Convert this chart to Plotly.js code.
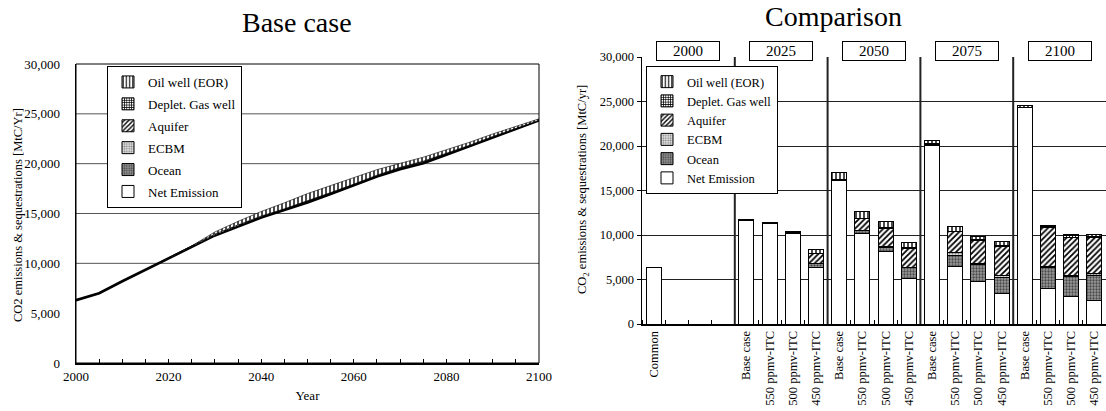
<!DOCTYPE html>
<html>
<head>
<meta charset="utf-8">
<script src="https://cdn.plot.ly/plotly-3.0.1.min.js"></script>
<style>
html,body{margin:0;padding:0;background:#fff;}
#chart{width:1106px;height:411px;}
</style>
</head>
<body>
<div id="chart"></div>
<script>
// ---------- Left chart: Base case (MtC/yr) ----------
const years     = [2000,2005,2010,2015,2020,2025,2030,2035,2040,2045,2050,2055,2060,2065,2070,2075,2080,2085,2090,2095,2100];
const netL      = [6300,7000,8200,9350,10500,11650,12800,13700,14600,15350,16100,16950,17800,18700,19450,20050,20900,21750,22650,23500,24350];
const oceanL    = [0,0,0,0,0,0,50,80,100,120,150,150,150,150,180,200,150,100,80,50,0];
const ecbmL     = [0,0,0,0,0,0,0,0,0,0,0,0,0,0,0,0,0,0,0,0,0];
const aquiferL  = [0,0,0,0,0,0,0,0,0,0,0,0,0,0,0,0,0,0,0,0,0];
const gasL      = [0,0,0,0,50,100,100,80,50,0,0,0,0,0,0,0,0,0,0,0,0];
const oilL      = [0,0,0,0,0,0,200,350,450,600,750,700,650,550,400,400,350,300,250,200,150];

// ---------- Right chart: Comparison ----------
const groups     = ['2000','2025','2050','2075','2100'];
const scenarios  = ['Base case','550 ppmv-ITC','500 ppmv-ITC','450 ppmv-ITC'];
const barGroup   = [0, 1,1,1,1, 2,2,2,2, 3,3,3,3, 4,4,4,4];
const barLabel   = ['Common',
  'Base case','550 ppmv-ITC','500 ppmv-ITC','450 ppmv-ITC',
  'Base case','550 ppmv-ITC','500 ppmv-ITC','450 ppmv-ITC',
  'Base case','550 ppmv-ITC','500 ppmv-ITC','450 ppmv-ITC',
  'Base case','550 ppmv-ITC','500 ppmv-ITC','450 ppmv-ITC'];
const netR     = [6300, 11650,11300,10150,6370, 16100,10200,8150,5150, 20050,6450,4800,3450, 24350,4000,3050,2600];
const oceanR   = [0, 0,0,50,450, 100,350,450,1200, 150,1300,1900,1800, 0,2300,2300,2900];
const ecbmR    = [0, 0,0,0,0, 0,0,100,0, 50,250,100,250, 0,200,100,150];
const aquiferR = [0, 0,0,0,1050, 0,1300,2050,2150, 0,2350,2550,3250, 0,4300,4250,4050];
const gasR     = [0, 100,120,50,50, 50,50,50,150, 0,100,150,100, 0,100,300,100];
const oilR     = [0, 0,0,100,500, 750,750,700,550, 400,480,380,400, 150,200,100,250];

const seriesNames = ['Net Emission','Ocean','ECBM','Aquifer','Deplet. Gas well','Oil well (EOR)'];

// ---------- styles ----------
const FONT = 'Liberation Serif';
const styles = {
  'Net Emission':     {color:'#ffffff', pattern:{shape:''}},
  'Ocean':            {color:'#8c8c8c', pattern:{shape:'.', fgcolor:'#4a4a4a', bgcolor:'#9a9a9a', size:3, solidity:0.45}},
  'ECBM':             {color:'#cfcfcf', pattern:{shape:'.', fgcolor:'#7a7a7a', bgcolor:'#e0e0e0', size:3, solidity:0.35}},
  'Aquifer':          {color:'#ffffff', pattern:{shape:'/', fgcolor:'#000000', bgcolor:'#ffffff', size:4, solidity:0.45}},
  'Deplet. Gas well': {color:'#ffffff', pattern:{shape:'+', fgcolor:'#000000', bgcolor:'#ffffff', size:3, solidity:0.5}},
  'Oil well (EOR)':   {color:'#ffffff', pattern:{shape:'|', fgcolor:'#000000', bgcolor:'#ffffff', size:4, solidity:0.35}}
};

const leftData  = [netL, oceanL, ecbmL, aquiferL, gasL, oilL];
const rightData = [netR, oceanR, ecbmR, aquiferR, gasR, oilR];

// slot positions along the comparison axis
const slotsPerGroup = 4;
const barX = barLabel.map((lab, i) => {
  const s = scenarios.indexOf(lab);
  return barGroup[i] * slotsPerGroup + (s < 0 ? 0 : s);
});
const allSlots = [];
for (let g = 0; g < groups.length; g++) for (let s = 0; s < slotsPerGroup; s++) allSlots.push(g*slotsPerGroup + s);

const traces = [];

// left stacked areas
seriesNames.forEach((name, k) => {
  const st = styles[name];
  const t = {
    type:'scatter', mode:'lines', x: years, y: leftData[k],
    stackgroup:'base', xaxis:'x', yaxis:'y', name:name, showlegend:false,
    line:{color:'#000', width: k === 0 ? 2.6 : 0.6},
    hoverinfo:'x+y+name'
  };
  if (k === 0) { t.fillcolor = 'rgba(255,255,255,0)'; }
  else {
    t.fillcolor = st.pattern.bgcolor || st.color;
    t.fillpattern = Object.assign({}, st.pattern);
  }
  traces.push(t);
});

// left legend entries (legend only markers)
seriesNames.forEach((name, k) => {
  const st = styles[name];
  traces.push({
    type:'bar', x:[null], y:[null], xaxis:'x', yaxis:'y', name:name,
    legend:'legend', legendgroup:'L'+name, legendrank: seriesNames.length - k,
    marker:{color:st.color, pattern:st.pattern, line:{color:'#000', width:1}},
    hoverinfo:'skip'
  });
});

// right stacked bars
seriesNames.forEach((name, k) => {
  const st = styles[name];
  traces.push({
    type:'bar', x: barX, y: rightData[k], xaxis:'x2', yaxis:'y2', name:name,
    legend:'legend2', legendrank: seriesNames.length - k,
    marker:{color:st.color, pattern:st.pattern, line:{color:'#000', width:1}},
    hovertemplate: name + ': %{y}<extra></extra>'
  });
});

const W = 1106, H = 411;
const px = v => v / W;
const py = v => 1 - v / H;

const shapes = [];
// left gridlines
[10000,15000,20000,25000].forEach(v => shapes.push({
  type:'line', xref:'x domain', yref:'y', x0:0, x1:1, y0:v, y1:v,
  line:{color:'#555', width:1}, layer:'below'
}));
// left frame
shapes.push({type:'rect', xref:'x domain', yref:'y domain', x0:0, x1:1, y0:0, y1:1, line:{color:'#000', width:1}, layer:'above'});
// right group dividers
for (let g = 1; g < groups.length; g++) {
  const xv = g*slotsPerGroup - 0.5;
  shapes.push({type:'line', xref:'x2', yref:'y2 domain', x0:xv, x1:xv, y0:0, y1:1, line:{color:'#222', width:2}, layer:'above'});
}

const annotations = [
  {text:'Base case', xref:'paper', yref:'paper', x:px(297), y:py(22), xanchor:'center', yanchor:'middle', showarrow:false, font:{family:FONT, size:28, color:'#000'}},
  {text:'Comparison', xref:'paper', yref:'paper', x:px(833), y:py(17), xanchor:'center', yanchor:'middle', showarrow:false, font:{family:FONT, size:28, color:'#000'}},
  {text:'CO2 emissions & sequestrations [MtC/Yr]', xref:'paper', yref:'paper', x:px(18), y:py(215), xanchor:'center', yanchor:'middle', textangle:-90, showarrow:false, font:{family:FONT, size:12.5, color:'#000'}},
  {text:'CO<sub>2</sub> emissions & sequestrations [MtC/yr]', xref:'paper', yref:'paper', x:px(583), y:py(190), xanchor:'center', yanchor:'middle', textangle:-90, showarrow:false, font:{family:FONT, size:12.5, color:'#000'}}
];
groups.forEach((g, i) => {
  annotations.push({
    text:g, xref:'x2', yref:'paper', x: i*slotsPerGroup + (slotsPerGroup-1)/2, y: py(51),
    xanchor:'center', yanchor:'middle', showarrow:false,
    width:60, height:16, borderpad:1, bordercolor:'#000', borderwidth:1, bgcolor:'#fff',
    font:{family:FONT, size:15, color:'#000'}
  });
});

const layout = {
  width:W, height:H,
  margin:{l:0, r:0, t:0, b:0},
  paper_bgcolor:'#fff', plot_bgcolor:'#fff',
  font:{family:FONT, color:'#000'},
  barmode:'stack', bargap:0.35,
  xaxis:{
    domain:[px(76), px(539)], anchor:'y', range:[2000,2100],
    tickmode:'linear', tick0:2000, dtick:20,
    ticks:'inside', ticklen:4, tickcolor:'#000',
    minor:{dtick:5, tick0:2000, ticks:'inside', ticklen:4, tickcolor:'#000', showgrid:false},
    showline:true, linewidth:2, linecolor:'#000', showgrid:false, zeroline:false,
    tickfont:{family:FONT, size:13}, automargin:false,
    title:{text:'Year', font:{family:FONT, size:13}, standoff:8}
  },
  yaxis:{
    domain:[py(363), py(64)], anchor:'x', range:[0,30000],
    tickmode:'linear', tick0:0, dtick:5000, tickformat:',d',
    ticks:'', showline:true, linewidth:1.5, linecolor:'#000',
    showgrid:false, zeroline:false, ticklabelstandoff:12,
    tickfont:{family:FONT, size:13}, automargin:false
  },
  xaxis2:{
    domain:[px(642), 1], anchor:'y2', range:[-0.5, allSlots.length - 0.5],
    tickmode:'array', tickvals:barX, ticktext:barLabel, tickangle:-90,
    ticks:'', showline:true, linewidth:2, linecolor:'#000',
    minor:{tickmode:'array', tickvals: allSlots.map(s => s - 0.5).concat([allSlots.length - 0.5]), ticks:'inside', ticklen:4, tickcolor:'#000', showgrid:false},
    showgrid:false, zeroline:false,
    tickfont:{family:FONT, size:12.5}, automargin:false
  },
  yaxis2:{
    domain:[py(324), py(57)], anchor:'x2', range:[0,30000],
    tickmode:'linear', tick0:0, dtick:5000, tickformat:',d',
    ticks:'outside', ticklen:4, tickcolor:'#000',
    showline:true, linewidth:1.5, linecolor:'#000',
    showgrid:true, gridcolor:'#222', gridwidth:1, zeroline:false,
    tickfont:{family:FONT, size:12.5}, automargin:false
  },
  legend:{
    x:px(107), y:py(66), xanchor:'left', yanchor:'top',
    bgcolor:'#fff', bordercolor:'#000', borderwidth:1,
    traceorder:'grouped', tracegroupgap:2, itemwidth:30,
    font:{family:FONT, size:13, color:'#000'}
  },
  legend2:{
    x:px(646), y:py(66), xanchor:'left', yanchor:'top',
    bgcolor:'#fff', bordercolor:'#000', borderwidth:1,
    traceorder:'normal', itemwidth:30,
    font:{family:FONT, size:12.5, color:'#000'}
  },
  shapes:shapes,
  annotations:annotations,
  showlegend:true
};

Plotly.newPlot('chart', traces, layout, {displayModeBar:false, staticPlot:true});
</script>
</body>
</html>
